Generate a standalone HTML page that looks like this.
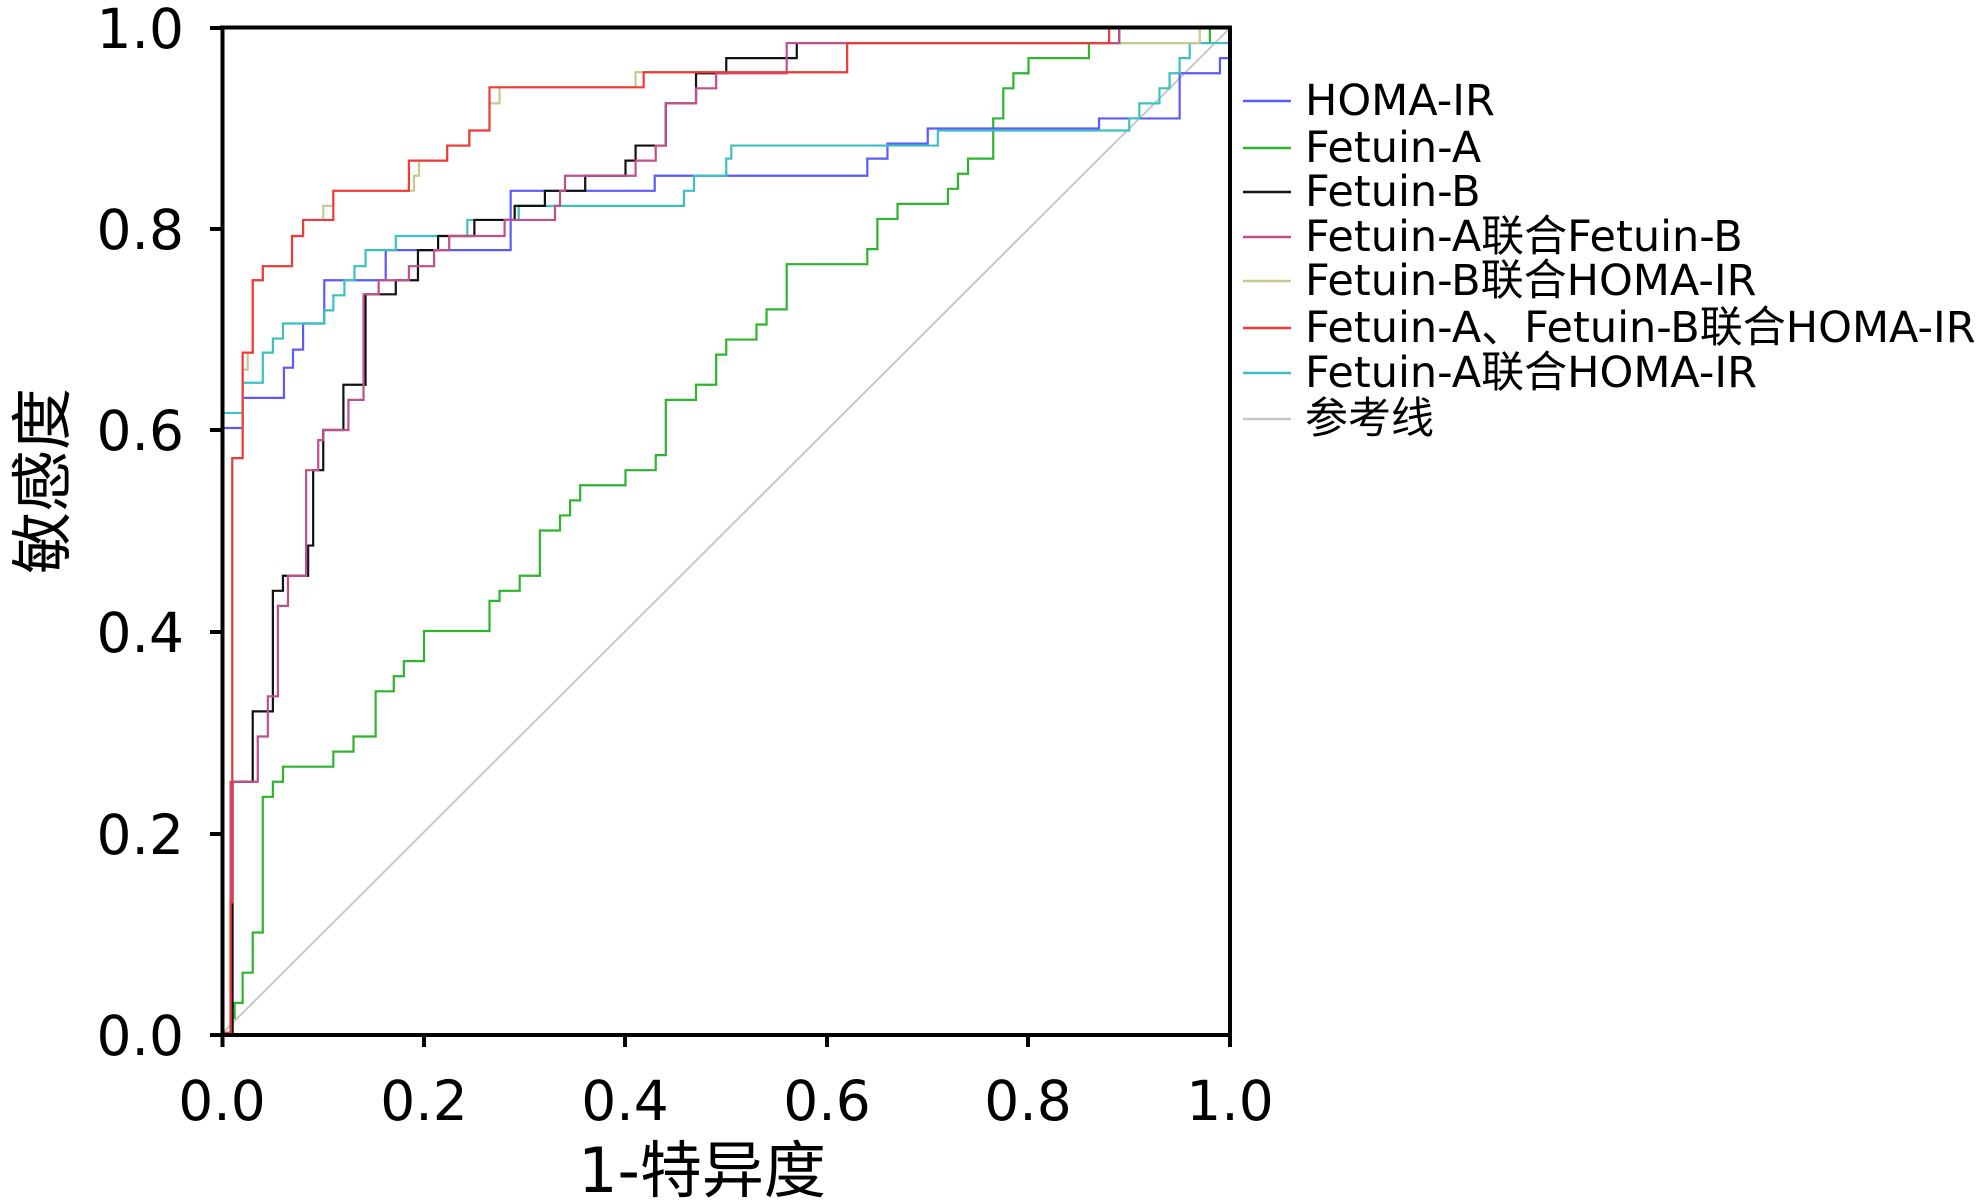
<!DOCTYPE html>
<html><head><meta charset="utf-8">
<style>
html,body{margin:0;padding:0;background:#fff;}
svg{display:block;}
text{font-family:"DejaVu Sans","Liberation Sans","Noto Sans CJK SC",sans-serif;fill:#000;}
</style></head>
<body>
<svg id="s" width="1983" height="1201" viewBox="0 0 1983 1201" xmlns="http://www.w3.org/2000/svg">
<g id="plot"></g>
<line x1="222.5" y1="1033" x2="222.5" y2="26" stroke="#000" stroke-width="4"/>
<line x1="220" y1="27.5" x2="1232" y2="27.5" stroke="#000" stroke-width="4"/>
<line x1="1230" y1="26" x2="1230" y2="1035" stroke="#000" stroke-width="4"/>
<line x1="220" y1="1035" x2="1232" y2="1035" stroke="#000" stroke-width="4"/>
<g stroke="#000" stroke-width="4">
<line x1="210" y1="1035" x2="222" y2="1035"/><line x1="210" y1="834" x2="222" y2="834"/>
<line x1="210" y1="632" x2="222" y2="632"/><line x1="210" y1="430" x2="222" y2="430"/>
<line x1="210" y1="229" x2="222" y2="229"/><line x1="210" y1="28" x2="222" y2="28"/>
<line x1="222.5" y1="1035" x2="222.5" y2="1047"/><line x1="424" y1="1035" x2="424" y2="1047"/>
<line x1="625" y1="1035" x2="625" y2="1047"/><line x1="827" y1="1035" x2="827" y2="1047"/>
<line x1="1028" y1="1035" x2="1028" y2="1047"/><line x1="1230" y1="1035" x2="1230" y2="1047"/>
</g>
<g font-size="55" text-anchor="end">
<text x="184" y="1055">0.0</text><text x="184" y="854">0.2</text><text x="184" y="652">0.4</text>
<text x="184" y="450">0.6</text><text x="184" y="249">0.8</text><text x="184" y="48">1.0</text>
</g>
<g font-size="55" text-anchor="middle">
<text x="222" y="1120">0.0</text><text x="424" y="1120">0.2</text><text x="625" y="1120">0.4</text>
<text x="827" y="1120">0.6</text><text x="1028" y="1120">0.8</text><text x="1230" y="1120">1.0</text>
</g>
<text x="702" y="1192" font-size="62" text-anchor="middle">1-特异度</text>
<text transform="translate(64,481) rotate(-90)" font-size="62" text-anchor="middle">敏感度</text>
<g id="legend" font-size="43"></g>
</svg>
<script>
var X0=222.5,X1=1230,Y0=1033,Y1=28;
function px(x){return X0+x*(X1-X0);} function py(y){return Y0-y*(Y0-Y1);}
function step(pts){var d="M"+px(pts[0][0])+" "+py(pts[0][1]);var cy=pts[0][1];
for(var i=1;i<pts.length;i++){var p=pts[i];d+=" L"+px(p[0])+" "+py(cy)+" L"+px(p[0])+" "+py(p[1]);cy=p[1];}return d;}
function line(pts){return "M"+pts.map(function(p){return px(p[0])+" "+py(p[1]);}).join(" L");}
var red=[[0,0],[0.008,0.13],[0.0097,0.572],[0.02,0.677],[0.03,0.749],[0.04,0.763],[0.069,0.793],[0.08,0.809],[0.11,0.838],[0.185,0.868],[0.223,0.883],[0.245,0.898],[0.265,0.941],[0.418,0.956],[0.62,0.985],[0.88,1],[1,1]];
var khaki=[[0,0],[0.008,0.13],[0.0097,0.572],[0.02,0.66],[0.025,0.677],[0.03,0.749],[0.04,0.763],[0.069,0.793],[0.08,0.809],[0.1,0.823],[0.11,0.838],[0.19,0.853],[0.195,0.868],[0.223,0.883],[0.245,0.898],[0.265,0.925],[0.275,0.941],[0.41,0.956],[0.62,0.985],[0.87,0.985],[0.97,1],[1,1]];
var black=[[0,0],[0.01,0.25],[0.03,0.32],[0.05,0.44],[0.06,0.455],[0.085,0.485],[0.09,0.56],[0.1,0.6],[0.12,0.645],[0.142,0.735],[0.172,0.749],[0.194,0.779],[0.214,0.793],[0.25,0.809],[0.29,0.823],[0.32,0.838],[0.36,0.853],[0.4,0.868],[0.41,0.883],[0.44,0.925],[0.47,0.955],[0.5,0.97],[0.57,0.985],[0.89,1],[1,1]];
var mag=[[0,0],[0.008,0.25],[0.035,0.295],[0.045,0.335],[0.055,0.425],[0.065,0.455],[0.083,0.56],[0.095,0.59],[0.1,0.6],[0.125,0.63],[0.14,0.735],[0.155,0.749],[0.185,0.763],[0.21,0.779],[0.225,0.793],[0.28,0.809],[0.33,0.823],[0.335,0.838],[0.34,0.853],[0.41,0.868],[0.43,0.883],[0.44,0.925],[0.47,0.94],[0.49,0.955],[0.56,0.985],[0.89,1],[1,1]];
var blue=[[0,0.602],[0.006,0.602],[0.02,0.632],[0.061,0.632],[0.061,0.662],[0.07,0.662],[0.07,0.68],[0.08,0.68],[0.08,0.706],[0.101,0.749],[0.132,0.749],[0.162,0.779],[0.254,0.779],[0.286,0.838],[0.399,0.838],[0.429,0.853],[0.57,0.853],[0.64,0.87],[0.66,0.885],[0.69,0.885],[0.7,0.9],[0.86,0.9],[0.87,0.91],[0.93,0.91],[0.95,0.955],[0.99,0.955],[0.99,0.97],[1,0.97]];
var cyan=[[0,0.617],[0.02,0.647],[0.04,0.677],[0.05,0.691],[0.06,0.706],[0.101,0.719],[0.11,0.734],[0.121,0.749],[0.131,0.763],[0.142,0.779],[0.172,0.793],[0.243,0.809],[0.294,0.823],[0.458,0.838],[0.468,0.853],[0.5,0.87],[0.505,0.883],[0.71,0.898],[0.86,0.898],[0.9,0.91],[0.91,0.925],[0.93,0.94],[0.94,0.955],[0.95,0.97],[0.96,0.985],[1,0.985]];
var green=[[0.008,0],[0.01,0.015],[0.012,0.03],[0.02,0.06],[0.03,0.1],[0.04,0.235],[0.05,0.25],[0.06,0.265],[0.11,0.28],[0.13,0.295],[0.152,0.34],[0.17,0.355],[0.18,0.37],[0.2,0.4],[0.265,0.43],[0.275,0.44],[0.295,0.455],[0.315,0.5],[0.335,0.515],[0.345,0.53],[0.355,0.545],[0.4,0.56],[0.43,0.575],[0.44,0.63],[0.47,0.645],[0.49,0.675],[0.5,0.69],[0.53,0.705],[0.54,0.72],[0.56,0.765],[0.64,0.78],[0.65,0.81],[0.67,0.825],[0.72,0.84],[0.73,0.855],[0.74,0.87],[0.765,0.91],[0.775,0.94],[0.785,0.955],[0.8,0.97],[0.86,0.985],[0.98,1],[1,1]];
var g=document.getElementById("plot");
function add(d,c,w){var p=document.createElementNS("http://www.w3.org/2000/svg","path");p.setAttribute("d",d);p.setAttribute("fill","none");p.setAttribute("stroke",c);p.setAttribute("stroke-width",w||2.2);g.appendChild(p);}
add(line([[0,0],[1,1]]),"#c8c8c8",2);
add(step(green),"#2db52d");
add(step(blue),"#5a5aff");
add(step(cyan),"#3ec0c0");
add(step(khaki),"#c8c890");
add(step(black),"#111");
add(step(mag),"#c0508c");
add(step(red),"#f03a3a");
var L=[["HOMA-IR","#5a5aff"],["Fetuin-A","#2db52d"],["Fetuin-B","#111"],["Fetuin-A联合Fetuin-B","#c0508c"],["Fetuin-B联合HOMA-IR","#c8c890"],["Fetuin-A、Fetuin-B联合HOMA-IR","#f03a3a"],["Fetuin-A联合HOMA-IR","#3ec0c0"],["参考线","#c8c8c8"]];
var ys=[101,148,192,237,281,328,373,419],lg=document.getElementById("legend");
L.forEach(function(e,i){var l=document.createElementNS("http://www.w3.org/2000/svg","line");
l.setAttribute("x1",1243);l.setAttribute("x2",1291);l.setAttribute("y1",ys[i]);l.setAttribute("y2",ys[i]);l.setAttribute("stroke",e[1]);l.setAttribute("stroke-width",2.5);lg.appendChild(l);
var t=document.createElementNS("http://www.w3.org/2000/svg","text");t.setAttribute("x",1305);t.setAttribute("y",ys[i]+14);t.textContent=e[0];lg.appendChild(t);});
</script>
</body></html>
